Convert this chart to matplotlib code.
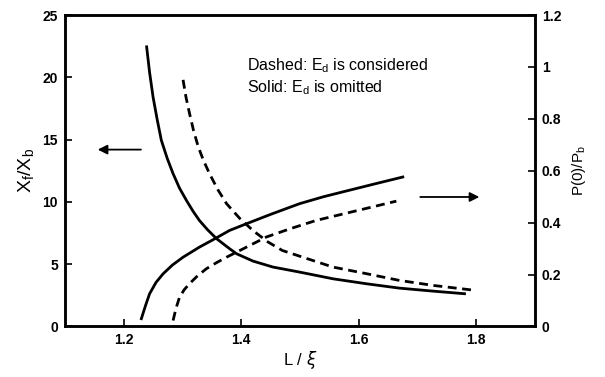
import matplotlib
matplotlib.use("Agg")
import matplotlib.pyplot as plt

plt.rcParams["font.family"] = ["Liberation Sans", "DejaVu Sans"]

# X_f / X_b (left axis), Ed omitted (solid) and considered (dashed)
x_solid_ratio = [1.239, 1.244, 1.25, 1.257, 1.264, 1.274, 1.284, 1.295, 1.307,
                 1.318, 1.329, 1.343, 1.358, 1.38, 1.392, 1.42, 1.454, 1.499,
                 1.556, 1.613, 1.669, 1.726, 1.78]
y_solid_ratio = [22.45, 20.4, 18.4, 16.6, 14.95, 13.5, 12.27, 11.1, 10.1,
                 9.25, 8.5, 7.75, 7.05, 6.25, 5.84, 5.25, 4.77, 4.37,
                 3.83, 3.43, 3.08, 2.84, 2.63]
x_dash_ratio = [1.301, 1.306, 1.312, 1.319, 1.327, 1.336, 1.346, 1.36, 1.375,
                1.397, 1.42, 1.445, 1.47, 1.499, 1.556, 1.613, 1.669, 1.726,
                1.80]
y_dash_ratio = [19.8, 18.4, 17.1, 15.7, 14.4, 13.3, 12.27, 11.0, 9.86,
                8.7, 7.7, 6.8, 6.1, 5.65, 4.77, 4.24, 3.7, 3.3,
                2.89]

# P(0) / P_b (right axis)
x_solid_p = [1.23, 1.237, 1.244, 1.255, 1.267, 1.283, 1.301, 1.329, 1.355,
             1.38, 1.409, 1.45, 1.499, 1.54, 1.584, 1.63, 1.675]
y_solid_p = [0.03, 0.08, 0.126, 0.17, 0.203, 0.237, 0.267, 0.306, 0.338,
             0.37, 0.396, 0.432, 0.473, 0.5, 0.525, 0.551, 0.576]
x_dash_p = [1.284, 1.289, 1.295, 1.303, 1.312, 1.326, 1.341, 1.358, 1.375,
            1.41, 1.443, 1.485, 1.528, 1.6, 1.664]
y_dash_p = [0.023, 0.07, 0.113, 0.142, 0.165, 0.196, 0.223, 0.246, 0.267,
            0.307, 0.345, 0.378, 0.409, 0.448, 0.483]

fig = plt.figure(figsize=(6.05, 3.77), dpi=100)
ax = fig.add_axes([0.1074, 0.134, 0.7769, 0.826])
ax2 = ax.twinx()

lw = 2.0
dash = (3.2, 2.0)
ax.plot(x_solid_ratio, y_solid_ratio, color="black", lw=lw)
ax.plot(x_dash_ratio, y_dash_ratio, color="black", lw=lw, dashes=dash)
ax2.plot(x_solid_p, y_solid_p, color="black", lw=lw)
ax2.plot(x_dash_p, y_dash_p, color="black", lw=lw, dashes=dash)

ax.set_xlim(1.1, 1.9)
ax.set_ylim(0, 25)
ax2.set_ylim(0, 1.2)
ax.set_xticks([1.2, 1.4, 1.6, 1.8])
ax.set_yticks([0, 5, 10, 15, 20, 25])
ax2.set_yticks([0, 0.2, 0.4, 0.6, 0.8, 1.0, 1.2])
ax2.set_yticklabels(["0", "0.2", "0.4", "0.6", "0.8", "1", "1.2"])

for a in (ax, ax2):
    for s in a.spines.values():
        s.set_linewidth(1.8)
    a.tick_params(direction="in", length=5, width=1.2, labelsize=10, pad=5)
    for lab in a.get_xticklabels() + a.get_yticklabels():
        lab.set_fontweight("bold")

ax.set_xlabel(r"L / $\xi$", fontsize=12, labelpad=1)
ax.set_ylabel(r"X$_\mathregular{f}$/X$_\mathregular{b}$", fontsize=14, labelpad=4)
ax2.set_ylabel(r"P(0)/P$_\mathregular{b}$", fontsize=11, labelpad=6)

# direction arrows
ax.annotate("", xy=(1.151, 14.2), xytext=(1.234, 14.2),
            arrowprops=dict(arrowstyle="-|>", color="black", lw=1.3,
                            mutation_scale=14))
ax2.annotate("", xy=(1.81, 0.499), xytext=(1.70, 0.499),
             arrowprops=dict(arrowstyle="-|>", color="black", lw=1.3,
                             mutation_scale=14))

ax.text(1.41, 20.6, r"Dashed: E$_\mathregular{d}$ is considered", fontsize=11.5)
ax.text(1.41, 18.8, r"Solid: E$_\mathregular{d}$ is omitted", fontsize=11.5)

fig.savefig("out.png", dpi=100)
